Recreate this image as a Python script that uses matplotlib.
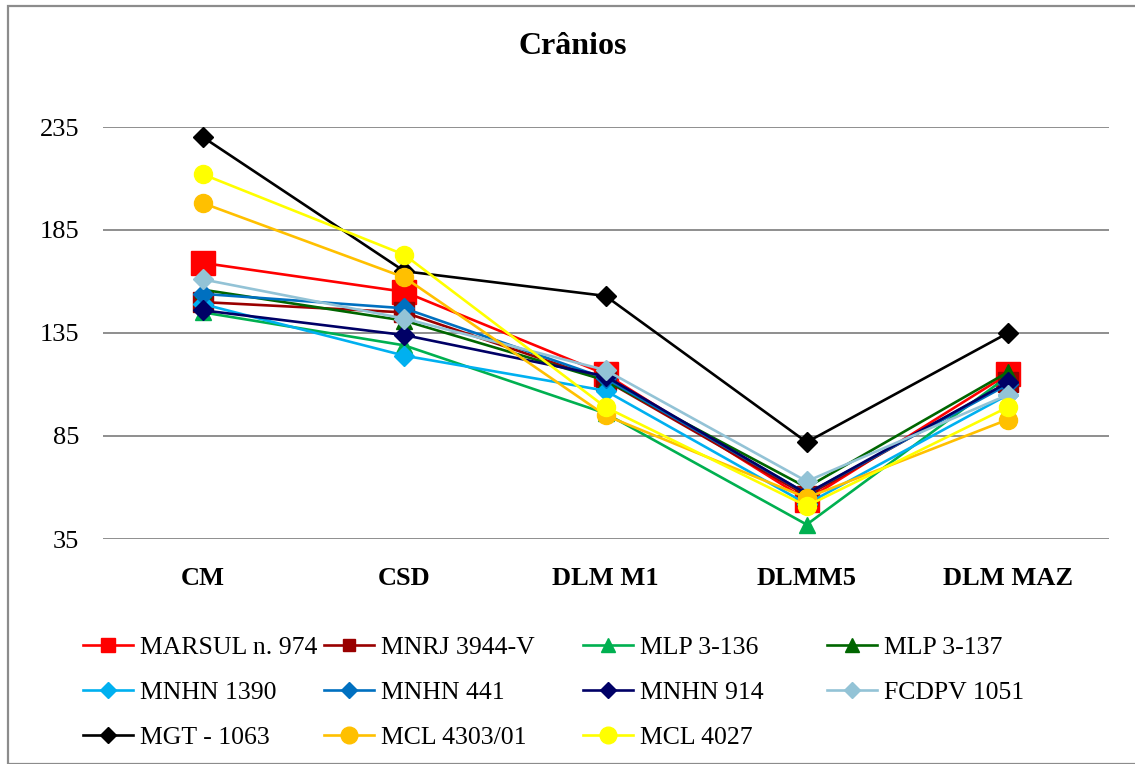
import matplotlib
matplotlib.use("Agg")
import matplotlib.pyplot as plt
from matplotlib.lines import Line2D
from matplotlib.patches import Rectangle

plt.rcParams["font.family"] = ["Liberation Serif", "DejaVu Serif"]

categories = ["CM", "CSD", "DLM M1", "DLMM5", "DLM MAZ"]

marsul_974 = [169, 155, 115, 54, 115]
mnrj_3944v = [150, 145, 112, 56, 111]
mlp_3_136 = [145, 129, 96, 42, 114]
mlp_3_137 = [156, 141, 112, 60, 116]
mnhn_1390 = [149, 124, 107, 52, 105]
mnhn_441 = [154, 147, 113, 57, 110]
mnhn_914 = [146, 134, 114, 57, 111]
fcdpv_1051 = [161, 142, 117, 63, 105]
mgt_1063 = [230, 165, 153, 82, 135]
mcl_4303_01 = [198, 162, 95, 55, 93]
mcl_4027 = [212, 173, 99, 51, 99]

series_labels = ["MARSUL n. 974", "MNRJ 3944-V", "MLP 3-136", "MLP 3-137",
                 "MNHN 1390", "MNHN 441", "MNHN 914", "FCDPV 1051",
                 "MGT - 1063", "MCL 4303/01", "MCL 4027"]
series_values = [marsul_974, mnrj_3944v, mlp_3_136, mlp_3_137,
                 mnhn_1390, mnhn_441, mnhn_914, fcdpv_1051,
                 mgt_1063, mcl_4303_01, mcl_4027]

# style per series: colour, marker, plot marker size, legend marker size
styles = [
    ("#FF0000", "s", 17, 10),
    ("#990000", "s", 14, 8.5),
    ("#00B050", "^", 12, 9.5),
    ("#006600", "^", 12, 9.5),
    ("#00B0F0", "D", 10, 8),
    ("#0070C0", "D", 10, 8),
    ("#000066", "D", 10, 8),
    ("#93C3D6", "D", 10, 8),
    ("#000000", "D", 10, 8),
    ("#FFC000", "o", 13, 12),
    ("#FFFF00", "o", 13, 12),
]

W, H = 1135, 764
fig = plt.figure(figsize=(W / 100, H / 100), dpi=100)

# chart frame
fig.patches.append(Rectangle((8 / W, 0), 1.2, 1 - 6 / H, transform=fig.transFigure,
                             fill=False, edgecolor="#8C8C8C", linewidth=1.6))

ax = fig.add_axes([102.5 / W, 1 - 539 / H, 1006 / W, 412 / H])
x = list(range(len(categories)))

for vals, (color, marker, ms, _) in zip(series_values, styles):
    ax.plot(x, vals, color=color, linewidth=1.9, marker=marker, markersize=ms,
            markerfacecolor=color, markeredgecolor=color)

ax.set_xlim(-0.5, len(categories) - 0.5)
ax.set_ylim(35, 235)
ax.set_yticks(range(35, 236, 50))
ax.set_xticks(x)
ax.set_xticklabels(categories, fontweight="bold", fontsize=19)
ax.yaxis.grid(True, color="#868686", linewidth=1.3)
ax.set_axisbelow(True)
for s in ax.spines.values():
    s.set_visible(False)
ax.tick_params(axis="y", length=0, labelsize=19, pad=17)
ax.tick_params(axis="x", length=0, pad=20)

fig.text(0.505, 1 - 46 / H, "Crânios", ha="center", va="center",
         fontsize=23, fontweight="bold")

# legend laid out in rows of four entries
handles = [Line2D([], [], color=c, linewidth=1.9, marker=m, markersize=lms,
                  markerfacecolor=c, markeredgecolor=c)
           for (c, m, _, lms) in styles]
col_x = [83, 324, 583, 827]
for ci, cx in enumerate(col_x):
    idx = list(range(ci, len(series_labels), 4))
    fig.legend([handles[i] for i in idx], [series_labels[i] for i in idx],
               loc="upper left", bbox_to_anchor=(cx / W, 1 - 636 / H),
               frameon=False, fontsize=18.5, handlelength=1.95,
               handletextpad=0.25, labelspacing=0.86, borderpad=0,
               borderaxespad=0)

fig.savefig("out.png", dpi=100, facecolor="white")
